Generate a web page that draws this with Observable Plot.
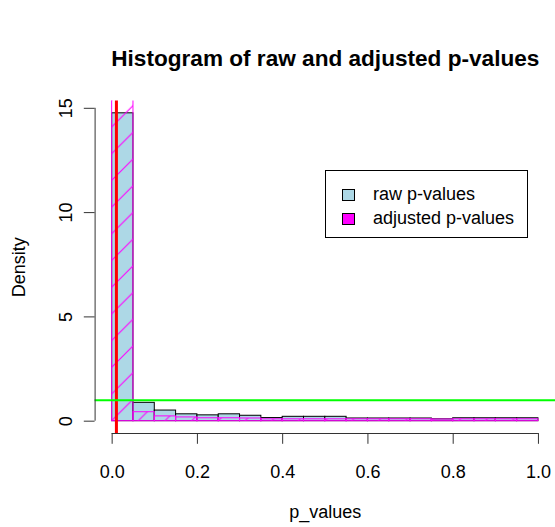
<!DOCTYPE html>
<html>
<head>
<meta charset="utf-8">
<script src="https://cdn.jsdelivr.net/npm/d3@7"></script>
<script src="https://cdn.jsdelivr.net/npm/@observablehq/plot@0.6"></script>
<style>
  html, body { margin: 0; padding: 0; background: #fff; }
  #chart { position: relative; width: 555px; height: 527px; font-family: "Liberation Sans", Arial, sans-serif; }
  #chart svg { display: block; }
  .legend { position: absolute; left: 325px; top: 170px; width: 203px; height: 68px; box-sizing: border-box;
            border: 1px solid #000; background: #fff; font-size: 18px; color: #000; }
  .legend .row { position: absolute; left: 0; height: 24px; white-space: nowrap; }
  .legend .sw { position: absolute; left: 16px; top: 6px; width: 13px; height: 12px; box-sizing: border-box; border: 1px solid #000; }
  .legend .lab { position: absolute; left: 47px; top: 1px; line-height: 20px; }
</style>
</head>
<body>
<div id="chart"></div>
<script>
// Histogram bin breaks (p-value scale)
const breaks = [0, 0.05, 0.1, 0.15, 0.2, 0.25, 0.3, 0.35, 0.4, 0.45, 0.5,
                0.55, 0.6, 0.65, 0.7, 0.75, 0.8, 0.85, 0.9, 0.95, 1.0];
// Density per bin for raw p-values
const rawDensity = [14.76, 0.88, 0.51, 0.33, 0.28, 0.33, 0.26, 0.15, 0.21, 0.21,
                    0.21, 0.13, 0.13, 0.13, 0.13, 0.09, 0.14, 0.14, 0.14, 0.14];
// Density per bin for adjusted p-values
const adjDensity = [17.5, 0.43, 0.23, 0.18, 0.14, 0.14, 0.13, 0.09, 0.09, 0.09,
                    0.09, 0.09, 0.09, 0.09, 0.09, 0.08, 0.09, 0.09, 0.09, 0.09];
const xTicks = [0, 0.2, 0.4, 0.6, 0.8, 1.0];
const xTickLabels = ["0.0", "0.2", "0.4", "0.6", "0.8", "1.0"];
const yTicks = [0, 5, 10, 15];
const alpha = 0.01;          // significance threshold (vertical line)
const uniformDensity = 1;    // density under the null (horizontal line)
const seriesNames = ["raw p-values", "adjusted p-values"];
const seriesColors = ["#add8e6", "#ff00ff"];

const rawBars = rawDensity.map((d, i) => ({x1: breaks[i], x2: breaks[i + 1], y: d}));
const adjBars = adjDensity.map((d, i) => ({x1: breaks[i], x2: breaks[i + 1], y: d}));

// R-style 4% axis extension around the data range
const xLo = breaks[0], xHi = breaks[breaks.length - 1];
const xPad = 0.04 * (xHi - xLo);
const yMax = d3.max(rawDensity);
const xDomain = [xLo - xPad, xHi + xPad];
const yDomain = [-0.04 * yMax, yMax * 1.04];

const font = "'Liberation Sans', Arial, sans-serif";
const axisColor = "#333";

const chart = Plot.plot({
  width: 555,
  height: 527,
  marginLeft: 94.6,
  marginRight: 0,
  marginTop: 100.5,
  marginBottom: 94,
  x: {domain: xDomain},
  y: {domain: yDomain},
  style: {fontFamily: font, fontSize: "18px", color: "#000", background: "#fff", overflow: "visible"},
  marks: [
    Plot.rect(rawBars, {x1: "x1", x2: "x2", y1: 0, y2: "y", inset: 0,
      fill: seriesColors[0], stroke: "#000", strokeWidth: 1, clip: true}),
    Plot.rect(adjBars, {x1: "x1", x2: "x2", y1: 0, y2: "y", inset: 0,
      fill: "url(#adj-hatch)", stroke: seriesColors[1], strokeWidth: 1, clip: true}),
    Plot.ruleX([alpha], {stroke: "#ff0000", strokeWidth: 3}),
    Plot.ruleY([uniformDensity], {stroke: "#00ff00", strokeWidth: 2}),
    // axis lines spanning first to last tick
    Plot.ruleY([{y: yDomain[0], x1: xTicks[0], x2: xTicks[xTicks.length - 1]}],
      {y: "y", x1: "x1", x2: "x2", stroke: axisColor, strokeWidth: 1}),
    Plot.ruleX([{x: xDomain[0], y1: yTicks[0], y2: yTicks[yTicks.length - 1]}],
      {x: "x", y1: "y1", y2: "y2", stroke: axisColor, strokeWidth: 1}),
    Plot.axisX({ticks: xTicks, tickSize: 10.8, tickPadding: 21, fontSize: 18, stroke: axisColor,
      tickFormat: d => xTickLabels[xTicks.indexOf(d)], label: null}),
    Plot.axisY({ticks: yTicks, tickSize: 10.8, tickPadding: 12, tickRotate: -90, fontSize: 18,
      stroke: axisColor, tickFormat: d => String(d), label: null}),
    Plot.text(["Density"], {frameAnchor: "left", dx: -76, rotate: -90, fontSize: 18,
      textAnchor: "middle", lineAnchor: "middle", fill: "#000"}),
    Plot.text(["p_values"], {frameAnchor: "bottom", dy: 79, fontSize: 18,
      textAnchor: "middle", lineAnchor: "middle", fill: "#000"}),
    Plot.text(["Histogram of raw and adjusted p-values"], {frameAnchor: "top", dy: -35,
      fontSize: 22.6, fontWeight: "bold", textAnchor: "middle", lineAnchor: "bottom", fill: "#000"})
  ]
});

// Diagonal hatching for the adjusted histogram, anchored at the origin of the bars
const xs = chart.scale("x"), ys = chart.scale("y");
const step = 26.7;
const x0 = xs.apply(breaks[0]), y0 = ys.apply(0);
const shift = ((x0 + y0) % step + step) % step;
const svg = d3.select(chart);
const pat = svg.insert("defs", ":first-child").append("pattern")
  .attr("id", "adj-hatch")
  .attr("patternUnits", "userSpaceOnUse")
  .attr("width", step).attr("height", step)
  .attr("patternTransform", `translate(${shift},0)`);
pat.append("path")
  .attr("d", `M-1,${step + 1}L${step + 1},-1M-1,1L1,-1M${step - 1},${step + 1}L${step + 1},${step - 1}`)
  .attr("stroke", seriesColors[1]).attr("stroke-width", 1.1).attr("fill", "none");

const host = document.getElementById("chart");
host.appendChild(chart);

// Legend box
const legend = document.createElement("div");
legend.className = "legend";
seriesNames.forEach((name, i) => {
  const row = document.createElement("div");
  row.className = "row";
  row.style.top = (12 + i * 24) + "px";
  const sw = document.createElement("span");
  sw.className = "sw";
  sw.style.background = seriesColors[i];
  const lab = document.createElement("span");
  lab.className = "lab";
  lab.textContent = name;
  row.appendChild(sw);
  row.appendChild(lab);
  legend.appendChild(row);
});
host.appendChild(legend);
</script>
</body>
</html>
